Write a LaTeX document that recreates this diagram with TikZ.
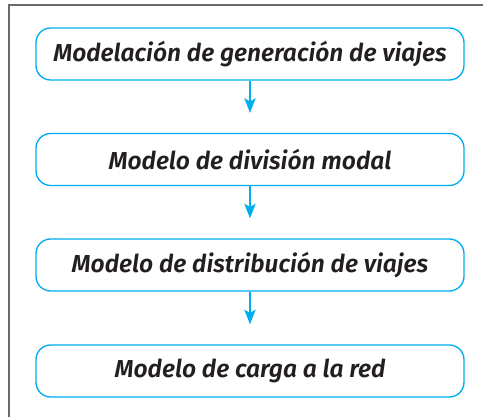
\documentclass[tikz,border=0pt]{standalone}
\usepackage{fontspec}
\newfontfamily\lblfont{Fira Sans}[BoldItalicFont={Fira Sans SemiBold Italic}]
\usetikzlibrary{arrows.meta}
\definecolor{cyanline}{HTML}{00AEEF}
\definecolor{txt}{HTML}{231F20}
\definecolor{framegray}{HTML}{6A6A6A}
\begin{document}
\begin{tikzpicture}[x=0.75pt,y=-0.75pt,
  stage/.style={draw=cyanline, line width=1pt, rounded corners=11pt,
    minimum width=321pt, minimum height=39pt, inner sep=0pt,
    font=\lblfont\bfseries\itshape\fontsize{18.4}{22}\selectfont, text=txt},
  flow/.style={draw=cyanline, line width=1pt,
    -{Stealth[length=11pt,width=8.5pt,inset=2.5pt]}, shorten >=15pt}]
\useasboundingbox (0,0) rectangle (483,417);
\draw[framegray, line width=1.2pt] (483,5) -- (9,5) -- (9,417);
\node[stage] (b1) at (250,54) {Modelación de generación de viajes};
\node[stage] (b2) at (250,159.5) {Modelo de división modal};
\node[stage] (b3) at (250,265) {Modelo de distribución de viajes};
\node[stage] (b4) at (250,371) {Modelo de carga a la red};
\draw[flow] (b1) -- (b2);
\draw[flow] (b2) -- (b3);
\draw[flow] (b3) -- (b4);
\end{tikzpicture}
\end{document}
